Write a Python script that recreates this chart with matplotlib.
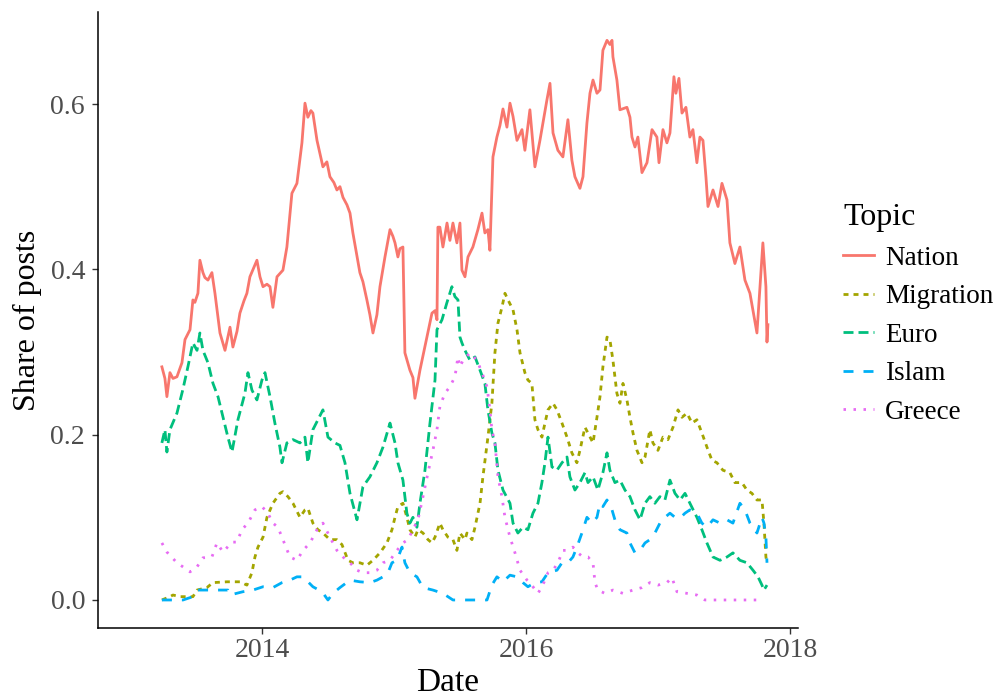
import matplotlib
matplotlib.use("Agg")
import matplotlib.pyplot as plt

# values (x = decimal year, y = share of posts)
nation_x = [2013.242, 2013.265, 2013.280, 2013.303, 2013.326, 2013.356, 2013.394, 2013.417, 2013.455,
            2013.477, 2013.492, 2013.515, 2013.530, 2013.553, 2013.568, 2013.591, 2013.621, 2013.644,
            2013.682, 2013.720, 2013.742, 2013.758, 2013.780, 2013.811, 2013.833, 2013.864, 2013.886,
            2013.909, 2013.962, 2013.985, 2014.008, 2014.038, 2014.061, 2014.083, 2014.114, 2014.159,
            2014.189, 2014.227, 2014.265, 2014.303, 2014.326, 2014.348, 2014.371, 2014.386, 2014.417,
            2014.462, 2014.492, 2014.515, 2014.545, 2014.568, 2014.591, 2014.614, 2014.644, 2014.667,
            2014.689, 2014.742, 2014.765, 2014.795, 2014.818, 2014.841, 2014.871, 2014.894, 2014.932,
            2014.970, 2014.992, 2015.008, 2015.030, 2015.045, 2015.068, 2015.083, 2015.121, 2015.144,
            2015.159, 2015.197, 2015.250, 2015.288, 2015.311, 2015.326, 2015.333, 2015.348, 2015.371,
            2015.402, 2015.424, 2015.447, 2015.477, 2015.500, 2015.515, 2015.538, 2015.561, 2015.598,
            2015.636, 2015.667, 2015.689, 2015.712, 2015.727, 2015.750, 2015.780, 2015.803, 2015.826,
            2015.856, 2015.879, 2015.902, 2015.932, 2015.970, 2015.992, 2016.030, 2016.068, 2016.106,
            2016.159, 2016.182, 2016.205, 2016.242, 2016.280, 2016.318, 2016.348, 2016.371, 2016.409,
            2016.432, 2016.462, 2016.485, 2016.508, 2016.538, 2016.561, 2016.583, 2016.614, 2016.636,
            2016.652, 2016.659, 2016.689, 2016.712, 2016.765, 2016.788, 2016.803, 2016.826, 2016.848,
            2016.879, 2016.917, 2016.955, 2016.992, 2017.008, 2017.038, 2017.068, 2017.091, 2017.121,
            2017.136, 2017.159, 2017.182, 2017.212, 2017.242, 2017.265, 2017.295, 2017.318, 2017.341,
            2017.364, 2017.379, 2017.417, 2017.455, 2017.485, 2017.523, 2017.545, 2017.583, 2017.621,
            2017.659, 2017.697, 2017.750, 2017.773, 2017.795, 2017.818, 2017.826, 2017.833]
nation_y = [0.282, 0.268, 0.246, 0.275, 0.268, 0.270, 0.287, 0.315, 0.327,
            0.363, 0.360, 0.371, 0.411, 0.396, 0.390, 0.387, 0.396, 0.371,
            0.323, 0.302, 0.318, 0.330, 0.306, 0.325, 0.347, 0.362, 0.371,
            0.391, 0.411, 0.391, 0.379, 0.382, 0.379, 0.354, 0.391, 0.399,
            0.427, 0.492, 0.504, 0.553, 0.601, 0.584, 0.592, 0.589, 0.556,
            0.524, 0.530, 0.512, 0.505, 0.496, 0.500, 0.487, 0.478, 0.468,
            0.444, 0.396, 0.385, 0.363, 0.345, 0.323, 0.345, 0.379, 0.415,
            0.448, 0.440, 0.432, 0.415, 0.425, 0.427, 0.299, 0.278, 0.269,
            0.244, 0.278, 0.318, 0.347, 0.350, 0.339, 0.451, 0.451, 0.427,
            0.456, 0.435, 0.456, 0.432, 0.456, 0.399, 0.391, 0.415, 0.427,
            0.448, 0.468, 0.444, 0.448, 0.423, 0.536, 0.560, 0.574, 0.594,
            0.572, 0.601, 0.585, 0.556, 0.569, 0.544, 0.593, 0.524, 0.556,
            0.605, 0.625, 0.565, 0.544, 0.536, 0.581, 0.532, 0.512, 0.498,
            0.512, 0.577, 0.613, 0.629, 0.613, 0.617, 0.665, 0.677, 0.672,
            0.677, 0.657, 0.629, 0.593, 0.596, 0.584, 0.560, 0.548, 0.560,
            0.517, 0.529, 0.569, 0.560, 0.529, 0.569, 0.553, 0.565, 0.633,
            0.613, 0.631, 0.589, 0.596, 0.560, 0.569, 0.529, 0.560, 0.556,
            0.511, 0.476, 0.496, 0.476, 0.504, 0.484, 0.432, 0.407, 0.427,
            0.387, 0.371, 0.323, 0.379, 0.432, 0.379, 0.312, 0.333]

migration_x = [2013.242, 2013.303, 2013.326, 2013.379, 2013.455, 2013.477, 2013.508, 2013.583, 2013.629,
               2013.735, 2013.780, 2013.833, 2013.886, 2013.924, 2013.947, 2013.970, 2014.008, 2014.038,
               2014.083, 2014.136, 2014.159, 2014.197, 2014.235, 2014.288, 2014.326, 2014.348, 2014.386,
               2014.424, 2014.462, 2014.515, 2014.568, 2014.606, 2014.652, 2014.689, 2014.742, 2014.795,
               2014.841, 2014.894, 2014.947, 2014.985, 2015.008, 2015.030, 2015.068, 2015.098, 2015.121,
               2015.159, 2015.182, 2015.220, 2015.258, 2015.288, 2015.311, 2015.348, 2015.371, 2015.409,
               2015.447, 2015.477, 2015.500, 2015.538, 2015.553, 2015.576, 2015.591, 2015.614, 2015.652,
               2015.674, 2015.712, 2015.742, 2015.765, 2015.788, 2015.818, 2015.841, 2015.864, 2015.902,
               2015.932, 2015.955, 2015.992, 2016.015, 2016.045, 2016.068, 2016.091, 2016.121, 2016.144,
               2016.167, 2016.205, 2016.235, 2016.273, 2016.311, 2016.348, 2016.386, 2016.409, 2016.447,
               2016.470, 2016.508, 2016.538, 2016.561, 2016.583, 2016.614, 2016.636, 2016.659, 2016.689,
               2016.712, 2016.735, 2016.765, 2016.788, 2016.811, 2016.841, 2016.879, 2016.902, 2016.939,
               2016.962, 2017.000, 2017.038, 2017.076, 2017.114, 2017.152, 2017.182, 2017.220, 2017.258,
               2017.295, 2017.333, 2017.371, 2017.409, 2017.447, 2017.492, 2017.545, 2017.583, 2017.636,
               2017.674, 2017.712, 2017.750, 2017.788, 2017.803, 2017.818, 2017.826]
migration_y = [0.000, 0.004, 0.006, 0.004, 0.004, 0.004, 0.012, 0.015, 0.021,
               0.022, 0.022, 0.022, 0.018, 0.033, 0.052, 0.064, 0.076, 0.100,
               0.117, 0.129, 0.131, 0.125, 0.117, 0.100, 0.109, 0.111, 0.093,
               0.085, 0.081, 0.073, 0.073, 0.067, 0.048, 0.045, 0.045, 0.042,
               0.048, 0.057, 0.069, 0.085, 0.100, 0.113, 0.117, 0.100, 0.085,
               0.076, 0.085, 0.081, 0.073, 0.069, 0.076, 0.093, 0.085, 0.076,
               0.073, 0.060, 0.081, 0.073, 0.081, 0.076, 0.073, 0.088, 0.117,
               0.149, 0.197, 0.238, 0.299, 0.335, 0.354, 0.371, 0.363, 0.351,
               0.327, 0.299, 0.275, 0.266, 0.262, 0.218, 0.206, 0.197, 0.214,
               0.230, 0.238, 0.230, 0.214, 0.197, 0.178, 0.166, 0.181, 0.209,
               0.202, 0.190, 0.221, 0.246, 0.282, 0.318, 0.315, 0.290, 0.250,
               0.238, 0.262, 0.242, 0.221, 0.202, 0.181, 0.166, 0.173, 0.206,
               0.190, 0.181, 0.197, 0.194, 0.209, 0.230, 0.221, 0.226, 0.214,
               0.218, 0.202, 0.185, 0.169, 0.166, 0.157, 0.154, 0.142, 0.142,
               0.133, 0.129, 0.121, 0.121, 0.093, 0.052, 0.045]

euro_x = [2013.242, 2013.265, 2013.280, 2013.303, 2013.356, 2013.400, 2013.439, 2013.477, 2013.508,
          2013.530, 2013.553, 2013.591, 2013.629, 2013.667, 2013.705, 2013.742, 2013.773, 2013.818,
          2013.871, 2013.894, 2013.924, 2013.962, 2014.000, 2014.023, 2014.061, 2014.098, 2014.136,
          2014.152, 2014.189, 2014.235, 2014.288, 2014.326, 2014.348, 2014.386, 2014.424, 2014.462,
          2014.500, 2014.553, 2014.591, 2014.629, 2014.667, 2014.720, 2014.765, 2014.818, 2014.871,
          2014.917, 2014.970, 2015.008, 2015.030, 2015.068, 2015.098, 2015.121, 2015.144, 2015.174,
          2015.197, 2015.235, 2015.273, 2015.311, 2015.326, 2015.364, 2015.400, 2015.439, 2015.462,
          2015.485, 2015.500, 2015.515, 2015.538, 2015.576, 2015.614, 2015.652, 2015.689, 2015.712,
          2015.742, 2015.765, 2015.788, 2015.826, 2015.879, 2015.902, 2015.939, 2015.977, 2016.015,
          2016.053, 2016.091, 2016.121, 2016.144, 2016.167, 2016.197, 2016.235, 2016.273, 2016.311,
          2016.333, 2016.371, 2016.409, 2016.447, 2016.470, 2016.508, 2016.545, 2016.583, 2016.614,
          2016.636, 2016.674, 2016.712, 2016.750, 2016.788, 2016.826, 2016.864, 2016.902, 2016.939,
          2016.977, 2017.015, 2017.053, 2017.091, 2017.129, 2017.167, 2017.205, 2017.242, 2017.295,
          2017.333, 2017.371, 2017.417, 2017.470, 2017.523, 2017.568, 2017.621, 2017.674, 2017.720,
          2017.758, 2017.788, 2017.803, 2017.826]
euro_y = [0.190, 0.206, 0.179, 0.206, 0.226, 0.254, 0.282, 0.311, 0.302,
          0.323, 0.302, 0.287, 0.262, 0.246, 0.221, 0.197, 0.179, 0.218,
          0.250, 0.275, 0.254, 0.242, 0.266, 0.275, 0.246, 0.214, 0.185,
          0.166, 0.190, 0.194, 0.190, 0.197, 0.166, 0.206, 0.218, 0.230,
          0.197, 0.190, 0.187, 0.166, 0.129, 0.097, 0.137, 0.149, 0.166,
          0.185, 0.214, 0.190, 0.166, 0.145, 0.105, 0.093, 0.100, 0.088,
          0.117, 0.157, 0.214, 0.266, 0.327, 0.339, 0.359, 0.379, 0.367,
          0.363, 0.318, 0.311, 0.302, 0.290, 0.294, 0.278, 0.262, 0.230,
          0.202, 0.190, 0.157, 0.133, 0.117, 0.093, 0.081, 0.088, 0.085,
          0.105, 0.117, 0.142, 0.166, 0.197, 0.161, 0.157, 0.166, 0.173,
          0.149, 0.133, 0.142, 0.154, 0.142, 0.149, 0.133, 0.154, 0.178,
          0.157, 0.142, 0.145, 0.133, 0.125, 0.109, 0.097, 0.117, 0.125,
          0.117, 0.125, 0.121, 0.145, 0.129, 0.121, 0.129, 0.117, 0.100,
          0.085, 0.069, 0.052, 0.048, 0.052, 0.057, 0.048, 0.045, 0.036,
          0.028, 0.018, 0.012, 0.018]

islam_x = [2013.242, 2013.402, 2013.477, 2013.515, 2013.659, 2013.742, 2013.758, 2013.856, 2013.932,
           2014.008, 2014.083, 2014.152, 2014.212, 2014.265, 2014.311, 2014.386, 2014.455, 2014.500,
           2014.538, 2014.591, 2014.667, 2014.742, 2014.818, 2014.871, 2014.917, 2014.955, 2014.985,
           2015.023, 2015.061, 2015.083, 2015.121, 2015.174, 2015.220, 2015.295, 2015.371, 2015.447,
           2015.705, 2015.742, 2015.780, 2015.826, 2015.879, 2015.932, 2015.977, 2016.015, 2016.068,
           2016.121, 2016.167, 2016.235, 2016.273, 2016.318, 2016.356, 2016.386, 2016.424, 2016.462,
           2016.500, 2016.538, 2016.561, 2016.583, 2016.614, 2016.652, 2016.674, 2016.712, 2016.765,
           2016.788, 2016.826, 2016.864, 2016.902, 2016.939, 2016.977, 2017.015, 2017.053, 2017.091,
           2017.129, 2017.167, 2017.205, 2017.242, 2017.295, 2017.333, 2017.371, 2017.417, 2017.470,
           2017.523, 2017.568, 2017.621, 2017.659, 2017.697, 2017.750, 2017.788, 2017.803, 2017.818,
           2017.826]
islam_y = [0.000, 0.000, 0.004, 0.012, 0.012, 0.012, 0.006, 0.010, 0.012,
           0.016, 0.015, 0.021, 0.024, 0.028, 0.028, 0.016, 0.010, 0.000,
           0.008, 0.015, 0.024, 0.022, 0.021, 0.024, 0.028, 0.033, 0.045,
           0.048, 0.064, 0.045, 0.033, 0.028, 0.015, 0.012, 0.008, 0.000,
           0.000, 0.018, 0.028, 0.022, 0.030, 0.028, 0.021, 0.016, 0.021,
           0.022, 0.033, 0.036, 0.045, 0.045, 0.052, 0.064, 0.081, 0.100,
           0.093, 0.100, 0.117, 0.113, 0.121, 0.109, 0.097, 0.085, 0.081,
           0.069, 0.057, 0.060, 0.069, 0.073, 0.081, 0.093, 0.100, 0.105,
           0.100, 0.099, 0.105, 0.109, 0.105, 0.093, 0.088, 0.097, 0.093,
           0.097, 0.093, 0.117, 0.109, 0.093, 0.081, 0.100, 0.093, 0.076,
           0.045]

greece_x = [2013.242, 2013.280, 2013.356, 2013.402, 2013.455, 2013.508, 2013.553, 2013.621, 2013.659,
            2013.705, 2013.773, 2013.811, 2013.848, 2013.894, 2013.947, 2014.000, 2014.045, 2014.083,
            2014.121, 2014.159, 2014.212, 2014.265, 2014.311, 2014.364, 2014.417, 2014.462, 2014.515,
            2014.568, 2014.614, 2014.667, 2014.720, 2014.765, 2014.818, 2014.871, 2014.917, 2014.970,
            2015.023, 2015.068, 2015.106, 2015.144, 2015.182, 2015.220, 2015.258, 2015.295, 2015.326,
            2015.348, 2015.386, 2015.424, 2015.462, 2015.485, 2015.500, 2015.523, 2015.576, 2015.629,
            2015.667, 2015.705, 2015.727, 2015.742, 2015.765, 2015.788, 2015.818, 2015.841, 2015.879,
            2015.917, 2015.955, 2016.008, 2016.053, 2016.091, 2016.121, 2016.144, 2016.167, 2016.205,
            2016.242, 2016.280, 2016.318, 2016.356, 2016.394, 2016.432, 2016.470, 2016.508, 2016.523,
            2016.545, 2016.598, 2016.659, 2016.735, 2016.811, 2016.879, 2016.939, 2017.000, 2017.068,
            2017.106, 2017.144, 2017.220, 2017.295, 2017.356, 2017.773]
greece_y = [0.069, 0.058, 0.045, 0.040, 0.034, 0.040, 0.051, 0.052, 0.069,
            0.058, 0.070, 0.070, 0.085, 0.093, 0.109, 0.113, 0.105, 0.093,
            0.088, 0.073, 0.052, 0.048, 0.060, 0.069, 0.085, 0.093, 0.076,
            0.060, 0.052, 0.045, 0.036, 0.033, 0.033, 0.036, 0.045, 0.048,
            0.060, 0.069, 0.073, 0.085, 0.097, 0.125, 0.154, 0.181, 0.206,
            0.234, 0.250, 0.258, 0.270, 0.294, 0.282, 0.290, 0.299, 0.290,
            0.275, 0.258, 0.230, 0.206, 0.190, 0.149, 0.125, 0.100, 0.076,
            0.057, 0.036, 0.024, 0.016, 0.008, 0.016, 0.024, 0.033, 0.036,
            0.045, 0.060, 0.060, 0.064, 0.057, 0.052, 0.052, 0.045, 0.021,
            0.012, 0.008, 0.012, 0.008, 0.012, 0.015, 0.021, 0.018, 0.021,
            0.027, 0.010, 0.008, 0.006, 0.000, 0.000]

topics = ["Nation", "Migration", "Euro", "Islam", "Greece"]
colors = ["#F8766D", "#A3A500", "#00BF7D", "#00B0F6", "#E76BF3"]
styles = ["-", (0, (1.8, 1.8)), (0, (3.6, 1.8)), (0, (3.6, 3.6)), (0, (0.9, 2.7))]
series = [(nation_x, nation_y), (migration_x, migration_y), (euro_x, euro_y),
          (islam_x, islam_y), (greece_x, greece_y)]

plt.rcParams["font.family"] = ["Liberation Serif", "DejaVu Serif"]

fig = plt.figure(figsize=(10.06, 7.0), dpi=100)
ax = fig.add_axes([98 / 1006, 72 / 700, 700 / 1006, 616 / 700])

for (xs, ys), name, col, ls in zip(series, topics, colors, styles):
    ax.plot(xs, ys, color=col, linestyle=ls, linewidth=2.0, label=name)

ax.set_xlim(2012.758, 2018.061)
ax.set_ylim(-0.0339, 0.7113)
ax.set_xticks([2014, 2016, 2018])
ax.set_xticklabels(["2014", "2016", "2018"])
ax.set_yticks([0.0, 0.2, 0.4, 0.6])
ax.set_yticklabels(["0.0", "0.2", "0.4", "0.6"])

for side in ["top", "right"]:
    ax.spines[side].set_visible(False)
for side in ["left", "bottom"]:
    ax.spines[side].set_linewidth(1.1)
    ax.spines[side].set_color("black")
ax.tick_params(axis="both", length=4.3, width=1.0, color="#333333",
               labelcolor="#4D4D4D", labelsize=20)
ax.tick_params(axis="x", pad=3)
ax.tick_params(axis="y", pad=5)

ax.set_xlabel("Date", fontsize=24, labelpad=3)
ax.set_ylabel("Share of posts", fontsize=23, labelpad=6)

leg = fig.legend(loc="center left", bbox_to_anchor=(843 / 1006, 1 - 314 / 700),
                 frameon=False, title="Topic", alignment="left", fontsize=19.5,
                 title_fontsize=23, handlelength=1.15, handletextpad=0.4,
                 labelspacing=0.5, borderpad=0, borderaxespad=0)

fig.savefig("out.png", dpi=100)
